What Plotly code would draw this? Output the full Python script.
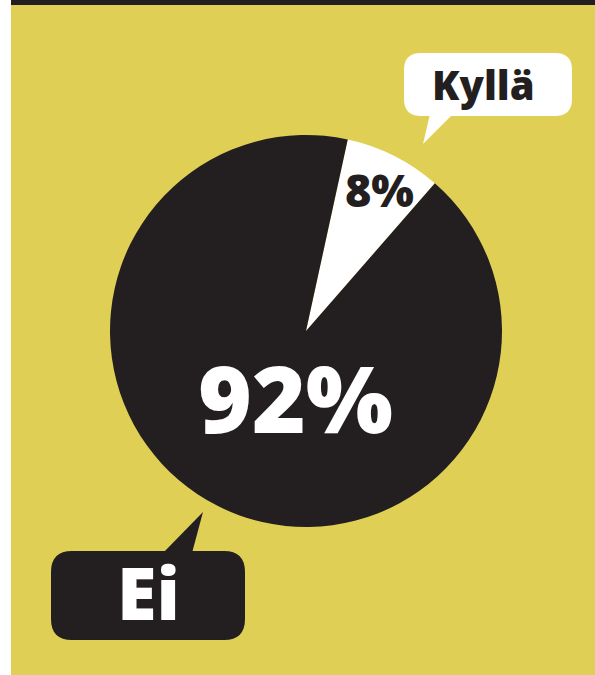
import plotly.graph_objects as go

labels = ["Kyllä", "Ei"]
values = [8, 92]
colors = ["#FFFFFF", "#231F20"]

W, H = 595, 675
cx, cy, r = 306, 331, 196

fig = go.Figure()

fig.add_trace(go.Pie(
    labels=labels, values=values, sort=False, direction="clockwise",
    rotation=12.3, marker=dict(colors=colors, line=dict(width=0)),
    textinfo="none", hoverinfo="label+percent", showlegend=False,
    domain=dict(x=[(cx - r) / W, (cx + r) / W], y=[1 - (cy + r) / H, 1 - (cy - r) / H]),
))

def rrect(x0, y0, x1, y1, rad):
    return (f"M{x0+rad},{y0} L{x1-rad},{y0} Q{x1},{y0} {x1},{y0+rad} "
            f"L{x1},{y1-rad} Q{x1},{y1} {x1-rad},{y1} L{x0+rad},{y1} "
            f"Q{x0},{y1} {x0},{y1-rad} L{x0},{y0+rad} Q{x0},{y0} {x0+rad},{y0} Z")

shapes = [
    dict(type="rect", x0=11, x1=595, y0=0, y1=675, fillcolor="#DFD055", line=dict(width=0), layer="below"),
    dict(type="rect", x0=11, x1=595, y0=0, y1=5, fillcolor="#231F20", line=dict(width=0), layer="below"),
    # Kyllä bubble
    dict(type="path", path=rrect(404, 53, 572, 116, 17), fillcolor="#FFFFFF", line=dict(width=0)),
    dict(type="path", path="M430,114 L453,114 L423,144 Z", fillcolor="#FFFFFF", line=dict(width=0)),
    # Ei bubble
    dict(type="path", path=rrect(51, 551, 245, 640, 21), fillcolor="#231F20", line=dict(width=0)),
    dict(type="path", path="M163,553 L192,553 L203,512 Z", fillcolor="#231F20", line=dict(width=0)),
]
for s in shapes:
    s.update(xref="x", yref="y")

font = "Open Sans"
total = sum(values)
annotations = [
    dict(x=483, y=84, text=labels[0], font=dict(family=font, size=40, color="#231F20", weight=800)),
    dict(x=148, y=592, text=labels[1], font=dict(family=font, size=72, color="#FFFFFF", weight=800)),
    dict(x=379, y=189, text=f"{round(values[0]/total*100)}%", font=dict(family=font, size=45, color="#231F20", weight=800)),
    dict(x=295, y=397, text=f"{round(values[1]/total*100)}%", font=dict(family=font, size=92, color="#FFFFFF", weight=800)),
]
for a in annotations:
    a.update(xref="x", yref="y", showarrow=False, xanchor="center", yanchor="middle")

fig.update_layout(
    width=W, height=H, margin=dict(l=0, r=0, t=0, b=0),
    paper_bgcolor="#FFFFFF", plot_bgcolor="rgba(0,0,0,0)",
    xaxis=dict(range=[0, W], visible=False, fixedrange=True),
    yaxis=dict(range=[H, 0], visible=False, fixedrange=True),
    shapes=shapes, annotations=annotations,
)

fig.write_html("out.html", config={"displayModeBar": False},
               post_script="document.body.style.margin='0';document.body.style.overflow='hidden';")
